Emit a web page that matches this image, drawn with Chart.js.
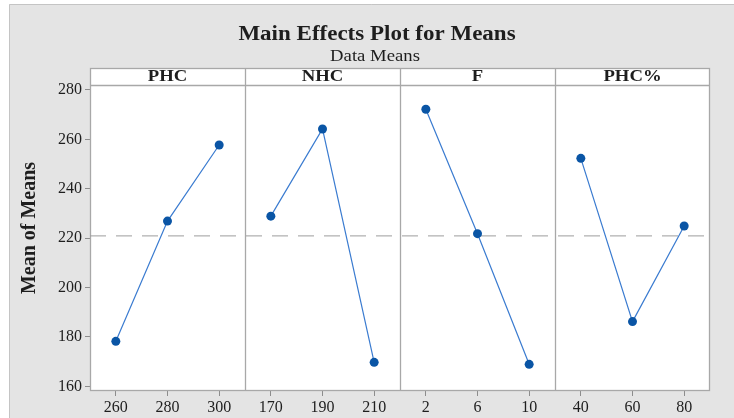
<!DOCTYPE html>
<html><head><meta charset="utf-8">
<script src="https://cdn.jsdelivr.net/npm/chart.js@4.4.0/dist/chart.umd.min.js"></script>
<style>html,body{margin:0;padding:0;background:#fff;} #wrap{position:relative;width:734px;height:418px;}</style>
</head><body><div id="wrap"><canvas id="c" width="734" height="418"></canvas></div>
<script>
const factors = ['PHC', 'NHC', 'F', 'PHC%'];
const levelsPHC = ['260', '280', '300'];
const levelsNHC = ['170', '190', '210'];
const levelsF = ['2', '6', '10'];
const levelsPHCpct = ['40', '60', '80'];
const meansPHC = [178.2, 226.9, 257.7];
const meansNHC = [228.9, 264.2, 169.7];
const meansF = [272.2, 221.8, 168.9];
const meansPHCpct = [252.3, 186.2, 224.9];
const yTicks = [160, 180, 200, 220, 240, 260, 280];
const grandMean = 220.9;

const allLevels = [levelsPHC, levelsNHC, levelsF, levelsPHCpct];
const allMeans = [meansPHC, meansNHC, meansF, meansPHCpct];
const nPer = 3;
const xMax = factors.length * nPer;

const tickPos = [];
const tickLab = [];
allLevels.forEach((lv, p) => lv.forEach((l, i) => { tickPos.push(p * nPer + i + 0.5); tickLab.push(l); }));

const LINE = '#3a7bd0', MARK = '#0a55a5', FRAME = '#a8a8a8', TXT = '#1e1e1e';
const SERIF = '"Liberation Serif", "Times New Roman", serif';

const datasets = allMeans.map((m, p) => ({
  label: factors[p],
  data: m.map((v, i) => ({ x: p * nPer + i + 0.5, y: v })),
  borderColor: LINE, borderWidth: 1.2,
  pointRadius: 4.5, pointHoverRadius: 4.5,
  pointBackgroundColor: MARK, pointBorderColor: MARK, pointBorderWidth: 0,
  tension: 0
}));
datasets.push({
  label: 'mean',
  data: [{ x: 0, y: grandMean }, { x: xMax, y: grandMean }],
  borderColor: '#9c9c9c', borderWidth: 1, borderDash: [16, 10],
  pointRadius: 0, tension: 0
});

function fitText(ctx, text, x, y, font, sx, rot) {
  ctx.save();
  ctx.font = font;
  ctx.translate(x, y);
  if (rot) ctx.rotate(rot);
  ctx.scale(sx, 1);
  ctx.fillText(text, 0, 0);
  ctx.restore();
}

const deco = {
  id: 'deco',
  beforeDraw(chart) {
    const ctx = chart.ctx, a = chart.chartArea;
    ctx.save();
    ctx.fillStyle = '#ffffff';
    ctx.fillRect(0, 0, chart.width, chart.height);
    ctx.fillStyle = '#e4e4e4';
    ctx.fillRect(9, 4, chart.width - 9, chart.height - 4);
    ctx.strokeStyle = '#c4c4c4'; ctx.lineWidth = 1;
    ctx.beginPath(); ctx.moveTo(9.5, chart.height); ctx.lineTo(9.5, 4.5); ctx.lineTo(chart.width, 4.5); ctx.stroke();
    const hTop = a.top - 17;
    ctx.fillStyle = '#ffffff';
    ctx.fillRect(a.left, hTop, a.right - a.left, a.bottom - hTop);
    ctx.restore();
  },
  beforeDatasetsDraw(chart) {
    const ctx = chart.ctx, a = chart.chartArea, xs = chart.scales.x;
    const hTop = a.top - 17;
    ctx.save();
    ctx.strokeStyle = FRAME; ctx.lineWidth = 1.3;
    ctx.strokeRect(a.left + 0.5, hTop + 0.5, a.right - a.left - 1, a.bottom - hTop - 1);
    ctx.beginPath();
    ctx.moveTo(a.left, a.top + 0.5); ctx.lineTo(a.right, a.top + 0.5);
    for (let p = 1; p < factors.length; p++) {
      const px = Math.round(xs.getPixelForValue(p * nPer)) + 0.5;
      ctx.moveTo(px, hTop); ctx.lineTo(px, a.bottom);
    }
    ctx.stroke();
    ctx.fillStyle = TXT; ctx.textAlign = 'center'; ctx.textBaseline = 'middle';
    factors.forEach((f, p) => {
      const cx = xs.getPixelForValue(p * nPer + nPer / 2);
      fitText(ctx, f, cx, hTop + 9, 'bold 17px ' + SERIF, 1.1);
    });
    fitText(ctx, 'Main Effects Plot for Means', 377, 35, 'bold 20px ' + SERIF, 1.15);
    fitText(ctx, 'Data Means', 375, 57, '17px ' + SERIF, 1.1);
    fitText(ctx, 'Mean of Means', 30, (a.top + a.bottom) / 2 - 10, 'bold 20px ' + SERIF, 1.0, -Math.PI / 2);
    ctx.restore();
  }
};

new Chart(document.getElementById('c'), {
  type: 'line',
  data: { datasets },
  plugins: [deco],
  options: {
    responsive: false, animation: false, devicePixelRatio: 1,
    layout: { padding: { top: 85, right: 24, left: 0, bottom: 0 } },
    plugins: { legend: { display: false }, tooltip: { enabled: false }, title: { display: false } },
    scales: {
      x: {
        type: 'linear', min: 0, max: xMax,
        afterFit(s) { s.height = 27; },
        afterBuildTicks(s) { s.ticks = tickPos.map(v => ({ value: v })); },
        ticks: {
          autoSkip: false, maxRotation: 0, padding: 2, color: TXT,
          font: { family: SERIF, size: 16 },
          callback(v) { const i = tickPos.indexOf(v); return i >= 0 ? tickLab[i] : ''; }
        },
        grid: { drawOnChartArea: false, drawTicks: true, tickLength: 5, color: '#8c8c8c' },
        border: { display: false }
      },
      y: {
        type: 'linear', min: 158.1, max: 282,
        afterFit(s) { s.width = 90; },
        afterBuildTicks(s) { s.ticks = yTicks.map(v => ({ value: v })); },
        ticks: { padding: 3, color: TXT, font: { family: SERIF, size: 16 } },
        grid: { drawOnChartArea: false, drawTicks: true, tickLength: 5, color: '#8c8c8c' },
        border: { display: false }
      }
    }
  }
});
</script></body></html>
